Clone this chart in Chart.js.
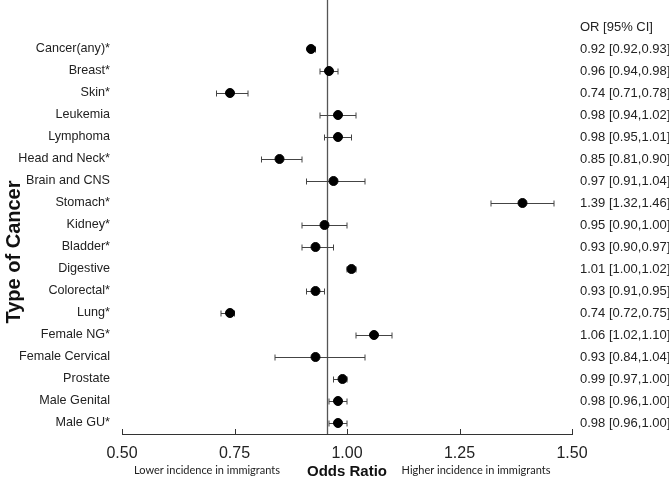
<!DOCTYPE html>
<html>
<head>
<meta charset="utf-8">
<script src="https://cdn.jsdelivr.net/npm/chart.js@4/dist/chart.umd.min.js"></script>
<style>
  html, body { margin: 0; padding: 0; background: #fff; }
  #wrap { width: 669px; height: 478px; }
</style>
</head>
<body>
<div id="wrap"><canvas id="forest" width="669" height="478"></canvas></div>
<script>
// === DONNEES ===
const cancers = ["Cancer(any)*", "Breast*", "Skin*", "Leukemia", "Lymphoma", "Head and Neck*",
  "Brain and CNS", "Stomach*", "Kidney*", "Bladder*", "Digestive", "Colorectal*", "Lung*",
  "Female NG*", "Female Cervical", "Prostate", "Male Genital", "Male GU*"];
const oddsRatio = [0.92, 0.96, 0.74, 0.98, 0.98, 0.85, 0.97, 1.39, 0.95, 0.93, 1.01, 0.93, 0.74, 1.06, 0.93, 0.99, 0.98, 0.98];
const ciLow  = [0.92, 0.94, 0.71, 0.94, 0.95, 0.81, 0.91, 1.32, 0.90, 0.90, 1.00, 0.91, 0.72, 1.02, 0.84, 0.97, 0.96, 0.96];
const ciHigh = [0.93, 0.98, 0.78, 1.02, 1.01, 0.90, 1.04, 1.46, 1.00, 0.97, 1.02, 0.95, 0.75, 1.10, 1.04, 1.00, 1.00, 1.00];
const xTicks = [0.50, 0.75, 1.00, 1.25, 1.50];
const refLine = 0.955; // ligne verticale telle que dessinee dans la figure

const FONT = "'Liberation Sans', Arial, sans-serif";

// barres d'erreur, ligne verticale, colonne OR [95% CI], titres, ticks internes
const forestPlugin = {
  id: "forest",
  beforeDatasetsDraw(chart) {
    const {ctx, chartArea} = chart;
    const x = chart.scales.x, y = chart.scales.y;
    ctx.save();
    // ligne de reference
    const rx = Math.round(x.getPixelForValue(refLine)) + 0.5;
    ctx.strokeStyle = "#555";
    ctx.lineWidth = 1.3;
    ctx.beginPath();
    ctx.moveTo(rx, 0);
    ctx.lineTo(rx, chartArea.bottom);
    ctx.stroke();
    // barres d'erreur
    ctx.strokeStyle = "#444";
    ctx.lineWidth = 1;
    cancers.forEach((c, i) => {
      const py = Math.round(y.getPixelForValue(i)) + 0.5;
      const x1 = x.getPixelForValue(ciLow[i]);
      const x2 = x.getPixelForValue(ciHigh[i]);
      ctx.beginPath();
      ctx.moveTo(x1, py); ctx.lineTo(x2, py);
      ctx.moveTo(x1, py - 3); ctx.lineTo(x1, py + 3);
      ctx.moveTo(x2, py - 3); ctx.lineTo(x2, py + 3);
      ctx.stroke();
    });
    ctx.restore();
  },
  afterDraw(chart) {
    const {ctx, chartArea} = chart;
    const x = chart.scales.x, y = chart.scales.y;
    ctx.save();
    // ticks vers le haut
    ctx.strokeStyle = "#333";
    ctx.lineWidth = 1;
    xTicks.forEach(v => {
      const px = Math.round(x.getPixelForValue(v)) + 0.5;
      ctx.beginPath();
      ctx.moveTo(px, chartArea.bottom);
      ctx.lineTo(px, chartArea.bottom - 5);
      ctx.stroke();
    });
    // colonne de droite
    ctx.fillStyle = "#222";
    ctx.font = "13px " + FONT;
    ctx.textAlign = "left";
    ctx.textBaseline = "middle";
    const rowH = y.getPixelForValue(1) - y.getPixelForValue(0);
    const tx = chartArea.right + 8;
    ctx.fillText("OR [95% CI]", tx, y.getPixelForValue(0) - rowH);
    cancers.forEach((c, i) => {
      const txt = oddsRatio[i].toFixed(2) + " [" + ciLow[i].toFixed(2) + "," + ciHigh[i].toFixed(2) + "]";
      ctx.fillText(txt, tx, y.getPixelForValue(i));
    });
    // titres des axes
    ctx.fillStyle = "#111";
    ctx.textAlign = "center";
    ctx.font = "bold 15px " + FONT;
    ctx.fillText("Odds Ratio", (chartArea.left + chartArea.right) / 2, 472);
    ctx.save();
    ctx.translate(14, 252);
    ctx.rotate(-Math.PI / 2);
    ctx.font = "bold 20px " + FONT;
    ctx.fillText("Type of Cancer", 0, 0);
    ctx.restore();
    // sous-titres
    ctx.fillStyle = "#222";
    ctx.font = "11px Lato, 'Open Sans', sans-serif";
    ctx.fillText("Lower incidence in immigrants", chartArea.left + 85, 470);
    ctx.fillText("Higher incidence in immigrants", chartArea.left + 354, 470);
    ctx.restore();
  }
};

new Chart(document.getElementById("forest"), {
  type: "scatter",
  data: {
    datasets: [{
      data: oddsRatio.map((v, i) => ({x: v, y: cancers[i]})),
      backgroundColor: "#000",
      borderColor: "#000",
      pointRadius: 4.5,
      pointHoverRadius: 4.5
    }]
  },
  options: {
    responsive: false,
    animation: false,
    layout: {padding: {top: 38, right: 97, bottom: 0, left: 0}},
    plugins: {legend: {display: false}, tooltip: {enabled: false}},
    scales: {
      x: {
        type: "linear",
        min: 0.5, max: 1.5,
        afterBuildTicks: s => { s.ticks = xTicks.map(v => ({value: v})); },
        afterFit: s => { s.height = 44; },
        grid: {display: false, drawTicks: false},
        border: {display: true, color: "#333", width: 1},
        ticks: {
          padding: 10,
          color: "#222",
          font: {family: FONT, size: 16},
          callback: v => v.toFixed(2)
        }
      },
      y: {
        type: "category",
        labels: cancers,
        offset: true,
        afterFit: s => { s.width = 122; },
        grid: {display: false, drawTicks: false},
        border: {display: false},
        ticks: {
          padding: 12,
          color: "#222",
          font: {family: FONT, size: 12.6},
          autoSkip: false
        }
      }
    }
  },
  plugins: [forestPlugin]
});
</script>
</body>
</html>
